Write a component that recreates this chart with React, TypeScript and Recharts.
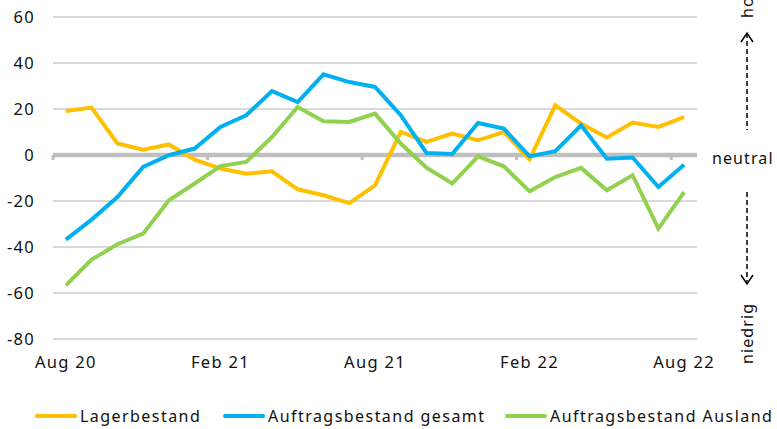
import React from 'react';
import { LineChart, Line, XAxis, YAxis, CartesianGrid, ReferenceLine } from 'recharts';

const months = [
  'Aug 20', 'Sep 20', 'Okt 20', 'Nov 20', 'Dez 20', 'Jan 21', 'Feb 21', 'Mrz 21', 'Apr 21',
  'Mai 21', 'Jun 21', 'Jul 21', 'Aug 21', 'Sep 21', 'Okt 21', 'Nov 21', 'Dez 21', 'Jan 22',
  'Feb 22', 'Mrz 22', 'Apr 22', 'Mai 22', 'Jun 22', 'Jul 22', 'Aug 22',
];

const lagerbestand = [
  19.1, 20.6, 5.0, 2.3, 4.6, -2.0, -5.9, -8.1, -7.1, -14.9, -17.5, -20.9, -13.2,
  10.0, 5.7, 9.3, 6.4, 10.0, -1.9, 21.6, 13.6, 7.6, 14.1, 12.2, 16.5,
];

const auftragGesamt = [
  -36.8, -28.1, -18.3, -5.2, -0.1, 2.8, 12.2, 17.3, 27.8, 23.0, 35.1, 31.7, 29.6,
  17.3, 0.9, 0.4, 13.9, 11.5, -0.6, 1.7, 12.9, -1.6, -1.1, -13.9, -4.2,
];

const auftragAusland = [
  -56.7, -45.5, -38.8, -34.2, -19.7, -12.4, -4.8, -3.0, 7.8, 20.9, 14.7, 14.4, 18.0,
  5.0, -5.5, -12.4, -0.6, -4.9, -15.8, -9.6, -5.6, -15.3, -8.8, -32.0, -16.1,
];

const yTicks = [-80, -60, -40, -20, 0, 20, 40, 60];
const xTicks = [0, 6, 12, 18, 24];
const boundaryTicks = [-0.5, 5.5, 11.5, 17.5, 23.5];

const series = [
  { key: 'lager', name: 'Lagerbestand', color: '#FFC000', left: 35 },
  { key: 'gesamt', name: 'Auftragsbestand gesamt', color: '#00B0F0', left: 223 },
  { key: 'ausland', name: 'Auftragsbestand Ausland', color: '#92D050', left: 505 },
];

const data = months.map((m, i) => ({
  idx: i,
  month: m,
  lager: lagerbestand[i],
  gesamt: auftragGesamt[i],
  ausland: auftragAusland[i],
}));

const FONT = '"Noto Sans", sans-serif';
const textStyle = { fontFamily: FONT, fontSize: 16.5, letterSpacing: 1.3, fill: '#111' };
const sideStyle = { fontFamily: FONT, fontSize: 16, letterSpacing: 1.1, fill: '#111' };

const Arrow = ({ x, y1, y2, up }: { x: number; y1: number; y2: number; up: boolean }) => {
  const tip = up ? y1 : y2;
  const d = up ? 9 : -9;
  return (
    <g stroke="#000" strokeWidth={1.5} fill="none">
      <line x1={x} y1={y1} x2={x} y2={y2} strokeDasharray="5 3" />
      <polyline points={`${x - 6},${tip + d} ${x},${tip} ${x + 6},${tip + d}`} />
    </g>
  );
};

const App = () => {
  return (
    <div style={{ position: 'absolute', left: 0, top: 0, width: 777, height: 429, background: '#fff', overflow: 'hidden' }}>
      <LineChart width={777} height={392} data={data} margin={{ top: 17, right: 80, left: 0, bottom: 0 }}>
        <CartesianGrid vertical={false} stroke="#cccccc" strokeWidth={1.5} />
        <XAxis
          dataKey="idx"
          type="number"
          domain={[-0.5, 24.5]}
          ticks={xTicks}
          tickFormatter={(v: number) => months[v]}
          axisLine={false}
          tickLine={false}
          tickSize={0}
          tickMargin={17}
          height={53}
          tick={textStyle}
        />
        <YAxis
          domain={[-80, 60]}
          ticks={yTicks}
          axisLine={false}
          tickLine={false}
          tickSize={0}
          tickMargin={18}
          width={53}
          tick={textStyle}
        />
        <ReferenceLine y={0} stroke="#bfbfbf" strokeWidth={4.5} />
        {boundaryTicks.map((t) => (
          <ReferenceLine
            key={t}
            segment={[{ x: t, y: 0 }, { x: t, y: -2.2 }]}
            stroke="#bfbfbf"
            strokeWidth={3}
          />
        ))}
        {series.map((s) => (
          <Line
            key={s.key}
            dataKey={s.key}
            name={s.name}
            stroke={s.color}
            strokeWidth={4}
            dot={false}
            isAnimationActive={false}
          />
        ))}
      </LineChart>

      <svg width={777} height={429} style={{ position: 'absolute', left: 0, top: 0, pointerEvents: 'none' }}>
        <text x={712} y={164} style={sideStyle}>neutral</text>
        <text transform="translate(753,0) rotate(-90)" x={-18} y={0} style={sideStyle}>hoch</text>
        <Arrow x={747} y1={33} y2={130} up />
        <Arrow x={747} y1={192} y2={284} up={false} />
        <text transform="translate(753,364) rotate(-90)" x={0} y={0} style={sideStyle}>niedrig</text>
      </svg>

      {series.map((s) => (
        <div
          key={s.key}
          style={{
            position: 'absolute',
            left: s.left,
            top: 405,
            display: 'flex',
            alignItems: 'center',
            fontFamily: FONT,
            fontSize: 16,
            letterSpacing: 1.45,
            color: '#111',
            whiteSpace: 'nowrap',
          }}
        >
          <div style={{ width: 42, height: 4, background: s.color, borderRadius: 2, marginRight: 3 }} />
          <span>{s.name}</span>
        </div>
      ))}
    </div>
  );
};

export default App;
